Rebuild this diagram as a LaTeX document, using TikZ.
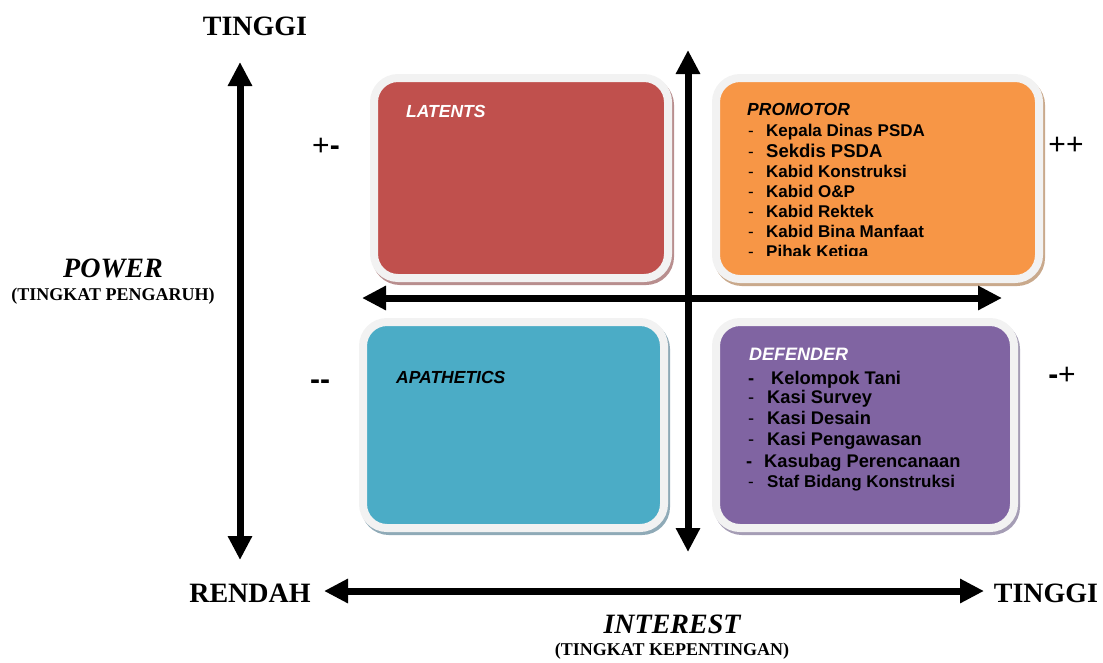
\documentclass[tikz,border=0pt]{standalone}
\usepackage{fontspec}
\setmainfont{Liberation Serif}
\newfontfamily\arialf{Liberation Sans}
\usetikzlibrary{arrows.meta}
\definecolor{latc}{HTML}{C0504D}
\definecolor{proc}{HTML}{F79646}
\definecolor{apac}{HTML}{4BACC6}
\definecolor{defc}{HTML}{8064A2}
\definecolor{bordc}{HTML}{F2F2F2}
\definecolor{latsh}{HTML}{B88E8E}
\definecolor{prosh}{HTML}{C9A98C}
\definecolor{apash}{HTML}{8FAAB7}
\definecolor{defsh}{HTML}{A59DB5}
\newcommand\itemdash[2]{\makebox[#1][l]{#2-}}
\newcommand\bdash{{\bfseries-}}
\begin{document}
\begin{tikzpicture}[x=1pt,y=-1pt,
  axis/.style={line width=7pt,{Triangle[length=24pt,width=23pt]}-{Triangle[length=24pt,width=23pt]}},
  quad/.style={rectangle,rounded corners=24pt,line width=8pt,draw=bordc,inner sep=0pt,outer sep=0pt},
  quadshadow/.style={rectangle,rounded corners=24pt,line width=8pt,inner sep=0pt,outer sep=0pt},
  axlabel/.style={font=\bfseries\fontsize{28}{32}\selectfont,inner sep=0pt},
  axname/.style={font=\bfseries\itshape\fontsize{28}{32}\selectfont,inner sep=0pt},
  axsub/.style={font=\bfseries\fontsize{18}{20}\selectfont,inner sep=0pt},
  sign/.style={font=\arialf\fontsize{30}{32}\selectfont,inner sep=0pt},
  qtitle/.style={font=\arialf\bfseries\itshape\fontsize{17.5}{20}\selectfont,anchor=base west,inner sep=0pt},
  pitem/.style={font=\arialf\bfseries\fontsize{17}{20}\selectfont,anchor=base west,inner sep=0pt},
  ditem/.style={font=\arialf\bfseries\fontsize{18.3}{20}\selectfont,anchor=base west,inner sep=0pt}
]
\useasboundingbox (0,0) rectangle (1103,662);

% ---- quadrant boxes (shadow, border, fill)
\node[quadshadow,fill=latsh,draw=latsh,minimum width=294pt,minimum height=200pt] (latS) at (523,181) {};
\node[quad,fill=latc,minimum width=294pt,minimum height=200pt] (lat) at (521,178) {};
\node[quadshadow,fill=prosh,draw=prosh,minimum width=323pt,minimum height=201pt] (proS) at (879.5,181.5) {};
\node[quad,fill=proc,minimum width=323pt,minimum height=201pt] (pro) at (877.5,178.5) {};
\node[quadshadow,fill=apash,draw=apash,minimum width=301pt,minimum height=206pt] (apaS) at (515.5,428) {};
\node[quad,fill=apac,minimum width=301pt,minimum height=206pt] (apa) at (513.5,425) {};
\node[quadshadow,fill=defsh,draw=defsh,minimum width=298pt,minimum height=206pt] (defS) at (867,428) {};
\node[quad,fill=defc,minimum width=298pt,minimum height=206pt] (def) at (865,425) {};

% ---- axes
\coordinate (pT) at (240,62);
\coordinate (pB) at (240,560);
\draw[axis] (pB) -- (pT);
\coordinate (iL) at (324,591);
\coordinate (iR) at (984,591);
\draw[axis] (iL) -- (iR);
\coordinate (cT) at (688,50);
\coordinate (cB) at (688,552);
\draw[axis] (cB) -- (cT);
\coordinate (cL) at (362,298);
\coordinate (cR) at (1002,298);
\draw[axis] (cL) -- (cR);

% ---- axis labels
\node[axlabel] (tinggiTop) at (255,26) {TINGGI};
\node[axname] (power) at (113,268) {POWER};
\node[axsub] (powersub) at (113,296) {(TINGKAT PENGARUH)};
\node[axlabel] (rendah) at (250,593) {RENDAH};
\node[axlabel] (tinggiR) at (1046,593) {TINGGI};
\node[axname] (interest) at (672,624) {INTEREST};
\node[axsub] (interestsub) at (672,651) {(TINGKAT KEPENTINGAN)};

% ---- signs
\node[sign] (sLat) at (326,147) {+\bdash};
\node[sign] (sPro) at (1066,146) {++};
\node[sign] (sApa) at (320,385) {\bdash\bdash};
\node[sign] (sDef) at (1062,376) {\bdash+};

% ---- LATENTS
\node[qtitle,text=white] (latT) at (406,117) {LATENTS};

% ---- APATHETICS
\node[qtitle,text=black] (apaT) at (396,383) {APATHETICS};

% ---- PROMOTOR
\node[qtitle,text=black] (proT) at (747,115) {PROMOTOR};
\node[pitem] (p1) at (748,136) {\itemdash{18pt}{\mdseries}Kepala Dinas PSDA};
\node[pitem,font=\arialf\bfseries\fontsize{18.5}{20}\selectfont] (p2) at (748,157.5) {\itemdash{18pt}{\mdseries\fontsize{17}{20}\selectfont}Sekdis PSDA};
\node[pitem] (p3) at (748,177) {\itemdash{18pt}{\mdseries}Kabid Konstruksi};
\node[pitem] (p4) at (748,197) {\itemdash{18pt}{\mdseries}Kabid O\&P};
\node[pitem] (p5) at (748,217) {\itemdash{18pt}{\mdseries}Kabid Rektek};
\node[pitem] (p6) at (748,237) {\itemdash{18pt}{\mdseries}Kabid Bina Manfaat};
\begin{scope}
\clip (740,238) rectangle (1000,255.5);
\node[pitem] (p7) at (748,257) {\itemdash{18pt}{\mdseries}Pihak Ketiga};
\end{scope}

% ---- DEFENDER
\node[qtitle,text=white,font=\arialf\bfseries\itshape\fontsize{18}{20}\selectfont] (defT) at (749,360) {DEFENDER};
\node[ditem] (d1) at (748,384.5) {\itemdash{23pt}{}Kelompok Tani};
\node[ditem] (d2) at (748,403.5) {\itemdash{19pt}{\mdseries}Kasi Survey};
\node[ditem] (d3) at (748,424.5) {\itemdash{19pt}{\mdseries}Kasi Desain};
\node[ditem] (d4) at (748,445.5) {\itemdash{19pt}{\mdseries}Kasi Pengawasan};
\node[ditem] (d5) at (746,467.5) {\itemdash{18pt}{}Kasubag Perencanaan};
\node[pitem] (d6) at (748,487) {\itemdash{19pt}{\mdseries}Staf Bidang Konstruksi};
\end{tikzpicture}
\end{document}
